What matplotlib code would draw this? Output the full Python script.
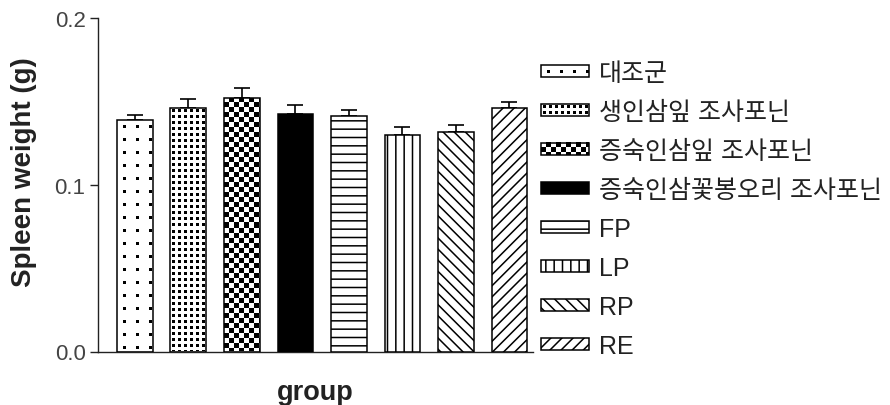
import numpy as np
import matplotlib
matplotlib.use("Agg")
import matplotlib.pyplot as plt
from matplotlib.colors import Normalize
from matplotlib.image import BboxImage
from matplotlib.legend_handler import HandlerBase
from matplotlib.patches import Rectangle
from matplotlib.transforms import Bbox, TransformedBbox

plt.rcParams["font.family"] = ["Liberation Sans", "Noto Sans CJK KR"]
plt.rcParams["hatch.linewidth"] = 1.1

# ---- data -------------------------------------------------------------
groups = ["대조군", "생인삼잎 조사포닌", "증숙인삼잎 조사포닌",
          "증숙인삼꽃봉오리 조사포닌", "FP", "LP", "RP", "RE"]
means = [0.139, 0.146, 0.152, 0.1426, 0.141, 0.1296, 0.1314, 0.146]
sems = [0.0027, 0.0054, 0.0060, 0.0051, 0.0036, 0.0052, 0.0043, 0.0035]
y_ticks = [0.0, 0.1, 0.2]
y_tick_labels = ["0.0", "0.1", "0.2"]

# fill style for each group: pixel patterns, solid, or matplotlib hatches
fills = ["sparse_dots", "dense_dots", "checker", "solid",
         "--", "||", "\\\\\\", "///"]
PIXEL_PATTERNS = {"sparse_dots", "dense_dots", "checker"}


def pattern(kind, w, h):
    """Binary texture (1 = black) of w x h pixels, row 0 at the top."""
    yy, xx = np.mgrid[0:h, 0:w]
    if kind == "sparse_dots":
        m = ((xx - 6) % 13 < 3) & ((yy - 6) % 13 < 3)
    elif kind == "dense_dots":
        m = ((xx - 2) % 6 < 3) & ((yy - 2) % 6 < 3)
    else:  # checker
        m = ((xx // 5) + (yy // 5)) % 2 == 1
    return m.astype(float)


class PatternHandler(HandlerBase):
    """Legend key filled with a pixel texture."""

    def __init__(self, kind):
        super().__init__()
        self.kind = kind

    def create_artists(self, legend, orig_handle, xdescent, ydescent,
                       width, height, fontsize, trans):
        x0, y0 = -xdescent, -ydescent
        bbox = TransformedBbox(Bbox.from_bounds(x0, y0, width, height), trans)
        img = BboxImage(bbox, cmap="gray_r", norm=Normalize(0, 1),
                        interpolation="nearest")
        scale = legend.figure.dpi / 72.0
        img.set_data(pattern(self.kind, max(1, int(round(width * scale))),
                             max(1, int(round(height * scale)))))
        frame = Rectangle((x0, y0), width, height, facecolor="none",
                          edgecolor="black", linewidth=1.1, transform=trans)
        return [img, frame]


# ---- figure -----------------------------------------------------------
W, H = 890, 406
fig = plt.figure(figsize=(W / 100, H / 100), dpi=100)
ax = fig.add_axes([98 / W, 1 - 352.5 / H, 435 / W, 333.5 / H])

x = np.arange(len(groups))
bar_w = 0.67
ax.set_xlim(-0.69, len(groups) - 1 + 0.44)
ax.set_ylim(0, 0.2)

handles = []
handler_map = {}
for i, (g, m, f) in enumerate(zip(groups, means, fills)):
    if f in PIXEL_PATTERNS:
        bars = ax.bar(x[i], m, width=bar_w, facecolor="none",
                      edgecolor="black", linewidth=1.1, zorder=3, label=g)
        patch = bars.patches[0]
        bx0, bw, bh = patch.get_x(), patch.get_width(), patch.get_height()
        p0 = ax.transData.transform((bx0, 0))
        p1 = ax.transData.transform((bx0 + bw, bh))
        wpx = int(round(p1[0] - p0[0]))
        hpx = int(round(p1[1] - p0[1]))
        im = ax.imshow(pattern(f, wpx, hpx), cmap="gray_r", vmin=0, vmax=1,
                       extent=(bx0, bx0 + bw, 0, bh), aspect="auto",
                       interpolation="nearest", zorder=2.5)
        im.set_clip_path(patch)
        handler_map[patch] = PatternHandler(f)
    elif f == "solid":
        bars = ax.bar(x[i], m, width=bar_w, facecolor="black",
                      edgecolor="black", linewidth=1.1, zorder=3, label=g)
        patch = bars.patches[0]
    else:
        bars = ax.bar(x[i], m, width=bar_w, facecolor="white",
                      edgecolor="black", hatch=f, linewidth=1.1, zorder=3,
                      label=g)
        patch = bars.patches[0]
    handles.append(patch)

ax.set_xlim(-0.69, len(groups) - 1 + 0.44)
ax.set_ylim(0, 0.2)

# upper error bars (SEM)
ax.errorbar(x, means, yerr=[np.zeros(len(sems)), sems], fmt="none",
            ecolor="black", elinewidth=1.2, capsize=6, capthick=1.2, zorder=2)

# axes styling
for side in ("top", "right"):
    ax.spines[side].set_visible(False)
for side in ("left", "bottom"):
    ax.spines[side].set_linewidth(1.0)
    ax.spines[side].set_color("#222222")
ax.set_xticks([])
ax.set_yticks(y_ticks)
ax.set_yticklabels(y_tick_labels)
ax.tick_params(axis="y", length=6, width=1.0, color="#222222",
               labelsize=16, labelcolor="#444444", pad=3)

ax.set_ylabel("Spleen weight (g)", fontsize=20, fontweight="bold",
              color="#222222")
ax.yaxis.set_label_coords(-0.140, 0.54)
ax.set_xlabel("group", fontsize=19.5, fontweight="bold", color="#222222")
ax.xaxis.label.set_verticalalignment("center")
ax.xaxis.set_label_coords(0.5, -0.12)

# legend
leg = ax.legend(handles, groups, handler_map=handler_map,
                loc="upper left", bbox_to_anchor=(541 / W, 1 - 62 / H),
                bbox_transform=fig.transFigure, frameon=False,
                borderpad=0, borderaxespad=0, fontsize=18,
                handlelength=1.92, handleheight=0.4, handletextpad=0.4,
                labelspacing=0.6)
for t in leg.get_texts():
    t.set_color("#222222")

fig.savefig("out.png", dpi=100)
